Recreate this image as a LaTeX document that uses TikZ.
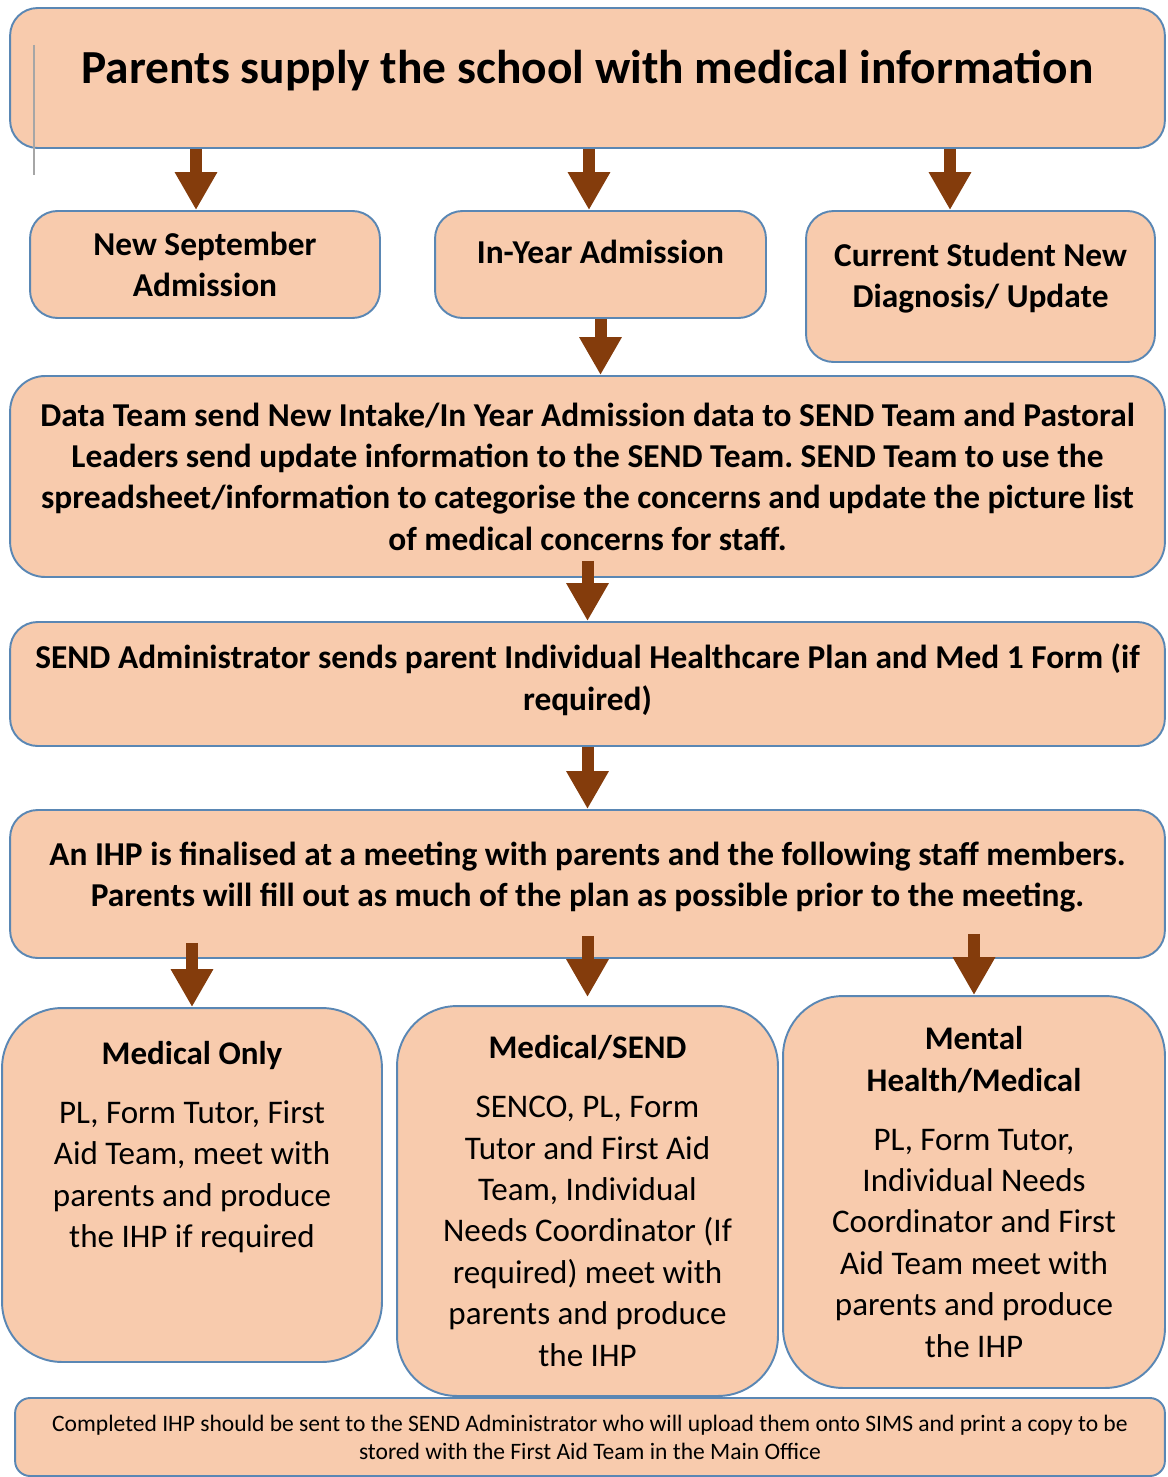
\documentclass[tikz,border=0pt]{standalone}
\usepackage{fontspec}
\setmainfont{Carlito}
\usepackage{tikz}
\usetikzlibrary{arrows.meta,positioning,calc}
\usepackage{xcolor}
\frenchspacing
\definecolor{boxfill}{HTML}{F8CBAD}
\definecolor{boxline}{HTML}{5A87B4}
\definecolor{arrowbrown}{HTML}{843C0C}
\tikzset{
  box/.style     = {draw=boxline, fill=boxfill, line width=1.1pt, rounded corners=0.55cm,
                    align=center, inner sep=0pt,
                    font=\bfseries\fontsize{19}{23.5}\selectfont},
  topbox/.style  = {box, font=\bfseries\fontsize{27}{30}\selectfont},
  groupbox/.style= {box, rounded corners=1.2cm, font=\fontsize{18.8}{23.6}\selectfont},
  notebox/.style = {box, rounded corners=0.3cm, font=\fontsize{13.4}{16}\selectfont},
  flow/.style    = {draw=arrowbrown, line width=0.24cm,
                    -{Triangle[width=0.8cm,length=0.76cm]}},
}

\begin{document}
\begin{tikzpicture}[x=0.02cm,y=-0.02cm]
\useasboundingbox (0,0) rectangle (1167,1477);
% boxes
\node[topbox,minimum width=23.1cm,minimum height=2.8cm] (parents) at (587.5,78)
  {Parents supply the school with medical information\\[-0.6cm]\mbox{}};
\node[box,minimum width=7cm,minimum height=2.14cm] (newsep) at (205,264.5)
  {New September\\ Admission};
\node[box,minimum width=6.62cm,minimum height=2.14cm] (inyear) at (600.5,264.5)
  {In-Year Admission\\[-0.31cm]\mbox{}};
\node[box,minimum width=6.98cm,minimum height=3.02cm] (current) at (980.5,286.5)
  {Current Student New\\ Diagnosis/ Update\\[-0.39cm]\mbox{}};
\node[box,rounded corners=0.7cm,minimum width=23.1cm,minimum height=4.02cm] (datateam) at (587.5,476.5)
  {Data Team send New Intake/In Year Admission data to SEND Team and Pastoral\\
   Leaders send update information to the SEND Team. SEND Team to use the\\
   spreadsheet/information to categorise the concerns and update the picture list\\
   of medical concerns for staff.};
\node[box,minimum width=23.1cm,minimum height=2.48cm] (admin) at (587.5,684)
  {SEND Administrator sends parent Individual Healthcare Plan and Med 1 Form (if\\ required)\\[-0.55cm]\mbox{}};
\node[box,minimum width=23.1cm,minimum height=2.96cm] (ihp) at (587.5,884)
  {An IHP is finalised at a meeting with parents and the following staff members.\\
   Parents will fill out as much of the plan as possible prior to the meeting.\\[-0.43cm]\mbox{}};
\node[groupbox,minimum width=7.6cm,minimum height=7.08cm] (medonly) at (192,1185)
  {\textbf{Medical Only}\\[0.35cm]
   PL, Form Tutor, First\\ Aid Team, meet with\\ parents and produce\\ the IHP if required\\[0.8cm]\mbox{}};
\node[groupbox,minimum width=7.62cm,minimum height=7.8cm] (medsend) at (587.5,1201)
  {\textbf{Medical/SEND}\\[0.35cm]
   SENCO, PL, Form\\ Tutor and First Aid\\ Team, Individual\\ Needs Coordinator (If\\
   required) meet with\\ parents and produce\\ the IHP};
\node[groupbox,minimum width=7.64cm,minimum height=7.84cm] (mental) at (974,1192)
  {\textbf{Mental}\\ \textbf{Health/Medical}\\[0.35cm]
   PL, Form Tutor,\\ Individual Needs\\ Coordinator and First\\ Aid Team meet with\\
   parents and produce\\ the IHP};
\node[notebox,minimum width=23cm,minimum height=1.56cm] (note) at (590,1437)
  {Completed IHP should be sent to the SEND Administrator who will upload them onto SIMS and print a copy to be\\
   stored with the First Aid Team in the Main Office};

% arrows
\draw[flow] ([xshift=-0.18cm]parents.south -| newsep.north) -- ([xshift=-0.18cm]newsep.north);
\draw[flow] ([xshift=-0.23cm]parents.south -| inyear.north) -- ([xshift=-0.23cm]inyear.north);
\draw[flow] ([xshift=-0.61cm]parents.south -| current.north) -- ([xshift=-0.61cm]current.north);
\draw[flow] (inyear.south) -- (inyear.south |- datateam.north);
\draw[flow] ([yshift=0.34cm]datateam.south) -- (admin.north);
\draw[flow] (admin.south) -- (ihp.north);
\draw[flow] ([yshift=0.32cm]ihp.south -| medonly.north) -- (medonly.north);
\draw[flow] ([yshift=0.46cm]ihp.south -| medsend.north) -- ([yshift=0.16cm]medsend.north);
\draw[flow] ([yshift=0.5cm]ihp.south -| mental.north) -- (mental.north);

% stray margin rule
\draw[gray!70,line width=0.6pt] (34,45) -- (34,175);
\end{tikzpicture}
\end{document}
